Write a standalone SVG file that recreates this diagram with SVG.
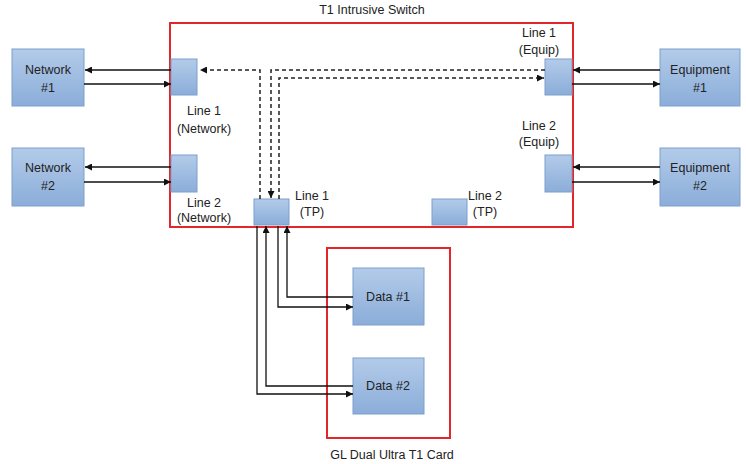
<svg xmlns="http://www.w3.org/2000/svg" width="746" height="464" viewBox="0 0 746 464">
<style>
text{font-family:"Liberation Sans",Arial,sans-serif;font-size:12.5px;fill:#222;text-anchor:middle}
.blk{fill:url(#bg);stroke:#7d9fcb;stroke-width:1}
.red{fill:none;stroke:#e3262a;stroke-width:2}
.ln{fill:none;stroke:#111;stroke-width:1.3}
.ds{fill:none;stroke:#222;stroke-width:1.5;stroke-dasharray:4 3}
</style>
<defs>
<linearGradient id="bg" x1="0" y1="0" x2="0" y2="1">
<stop offset="0" stop-color="#b3cbe9"/>
<stop offset="1" stop-color="#8badd9"/>
</linearGradient>
<marker id="ah" viewBox="0 0 10 10" refX="10" refY="5" markerWidth="8" markerHeight="7" markerUnits="userSpaceOnUse" orient="auto">
<path d="M0,0 L10,5 L0,10 z" fill="#111"/>
</marker>
</defs>
<rect width="746" height="464" fill="#fff"/>

<g id="switch">
<rect class="red" x="170" y="23" width="403" height="204"/>
<text x="372" y="14">T1 Intrusive Switch</text>
</g>
<g id="card">
<rect class="red" x="327" y="248" width="123" height="190"/>
<text x="392" y="459">GL Dual Ultra T1 Card</text>
</g>

<g id="network1"><rect class="blk" x="12" y="49" width="72" height="57"/><text x="48" y="74">Network</text><text x="48" y="92">#1</text></g>
<g id="network2"><rect class="blk" x="12" y="148" width="72" height="58"/><text x="48" y="172">Network</text><text x="48" y="190">#2</text></g>
<g id="equipment1"><rect class="blk" x="660" y="49" width="80" height="57"/><text x="700" y="74">Equipment</text><text x="700" y="92">#1</text></g>
<g id="equipment2"><rect class="blk" x="660" y="148" width="80" height="58"/><text x="700" y="172">Equipment</text><text x="700" y="190">#2</text></g>

<g id="line1net"><rect class="blk" x="171" y="59" width="26" height="36"/><text x="204" y="115">Line 1</text><text x="204" y="133">(Network)</text></g>
<g id="line2net"><rect class="blk" x="171" y="155" width="26" height="37"/><text x="204" y="207">Line 2</text><text x="204" y="222">(Network)</text></g>
<g id="line1eq"><rect class="blk" x="545" y="59" width="27" height="36"/><text x="539" y="37">Line 1</text><text x="539" y="54">(Equip)</text></g>
<g id="line2eq"><rect class="blk" x="545" y="155" width="27" height="37"/><text x="539" y="130">Line 2</text><text x="539" y="146">(Equip)</text></g>
<g id="line1tp"><rect class="blk" x="254" y="199" width="35" height="26"/><text x="312" y="200">Line 1</text><text x="312" y="216">(TP)</text></g>
<g id="line2tp"><rect class="blk" x="432" y="199" width="35" height="26"/><text x="485" y="200">Line 2</text><text x="485" y="216">(TP)</text></g>

<g id="data1"><rect class="blk" x="353" y="268" width="71" height="57"/><text x="388" y="301">Data #1</text></g>
<g id="data2"><rect class="blk" x="353" y="358" width="71" height="56"/><text x="388" y="390">Data #2</text></g>

<g id="connectors">
<path class="ln" d="M171,70 H85" marker-end="url(#ah)"/>
<path class="ln" d="M84,84 H171" marker-end="url(#ah)"/>
<path class="ln" d="M171,167 H85" marker-end="url(#ah)"/>
<path class="ln" d="M84,182 H171" marker-end="url(#ah)"/>
<path class="ln" d="M660,70 H573" marker-end="url(#ah)"/>
<path class="ln" d="M572,84 H660" marker-end="url(#ah)"/>
<path class="ln" d="M660,167 H573" marker-end="url(#ah)"/>
<path class="ln" d="M572,182 H660" marker-end="url(#ah)"/>

<path class="ds" d="M260,199 V70 H200" marker-end="url(#ah)"/>
<path class="ds" d="M545,70 H271 V198" marker-end="url(#ah)"/>
<path class="ds" d="M279,199 V78 H544" marker-end="url(#ah)"/>

<path class="ln" d="M353,297 H287 V226" marker-end="url(#ah)"/>
<path class="ln" d="M278,226 V307 H353" marker-end="url(#ah)"/>
<path class="ln" d="M353,386 H266 V226" marker-end="url(#ah)"/>
<path class="ln" d="M257,226 V394 H353" marker-end="url(#ah)"/>
</g>
</svg>
